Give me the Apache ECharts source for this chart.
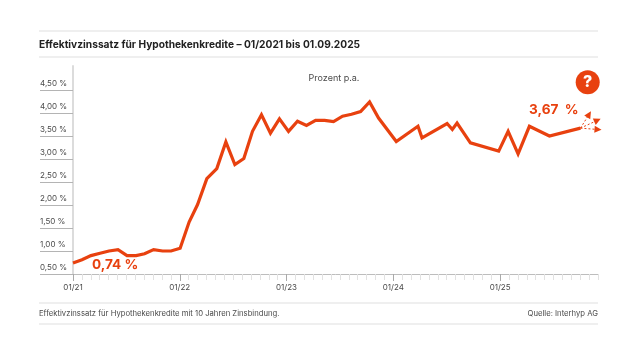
<!DOCTYPE html>
<html>
<head>
<meta charset="utf-8">
<title>Effektivzinssatz</title>
<script src="https://cdn.jsdelivr.net/npm/echarts@6/dist/echarts.min.js"></script>
<style>
html, body { margin: 0; padding: 0; background: #fff; }
#chart { width: 640px; height: 360px; }
</style>
</head>
<body>
<div id="chart"></div>
<script>
// months since 01/2021 for each vertex of the line
var months = [0, 1.01, 2.02, 3.04, 4.05, 5.06, 6.07, 7.09, 8.04, 9.06, 10.07, 11.02, 12.04, 13.05, 14, 15.04,
    16.16, 17.18, 18.19, 19.2, 20.17, 21.18, 22.19, 23.2, 24.22, 25.23, 26.24, 27.26, 28.27, 29.28, 30.29, 31.3,
    32.32, 33.33, 34.34, 36.33, 38.77, 39.22, 42.04, 42.63, 43.16, 44.66, 47.84, 48.9, 50.02, 51.29, 53.54, 57.03];
var rates = [0.74, 0.81, 0.90, 0.95, 1.00, 1.03, 0.90, 0.90, 0.94, 1.03, 1.00, 1.00, 1.06, 1.63, 2.01, 2.57,
    2.79, 3.37, 2.88, 3.01, 3.60, 3.96, 3.56, 3.87, 3.60, 3.82, 3.73, 3.84, 3.84, 3.81, 3.93, 3.97,
    4.03, 4.24, 3.89, 3.38, 3.71, 3.46, 3.77, 3.64, 3.78, 3.35, 3.17, 3.60, 3.11, 3.71, 3.50, 3.67];

var yTicks = [0.5, 1, 1.5, 2, 2.5, 3, 3.5, 4, 4.5];
var yearTicks = [0, 12, 24, 36, 48];
var yearLabels = ['01/21', '01/22', '01/23', '01/24', '01/25'];
var arrowEnds = [[59, 3.64], [58.94, 3.84], [58, 3.97]];

var monthTicks = [];
for (var m = 0; m <= 59; m++) {
    monthTicks.push(m);
}

var red = '#e8410f';
var textColor = '#4a4a4a';
var fontName = 'Inter';

var rule = function (y) {
    return {
        type: 'line',
        shape: { x1: 39, y1: y, x2: 598, y2: y },
        style: { stroke: '#efefef', lineWidth: 2 }
    };
};

var text = function (x, y, str, size, weight, color, align) {
    return {
        type: 'text',
        x: x,
        y: y,
        style: {
            text: str,
            fontFamily: fontName,
            fontSize: size,
            fontWeight: weight,
            fill: color,
            align: align || 'left',
            verticalAlign: 'middle'
        }
    };
};

var option = {
    backgroundColor: '#fff',
    animation: false,
    grid: { left: 73, right: 42, top: 66, bottom: 86 },
    xAxis: [
        {
            type: 'value',
            min: 0,
            max: 59,
            splitLine: { show: false },
            axisLine: { show: true, lineStyle: { color: '#bdbdbd', width: 1 } },
            axisTick: { show: true, customValues: monthTicks, length: 6, lineStyle: { color: '#e2e2e2' } },
            axisLabel: { show: false }
        },
        {
            type: 'value',
            min: 0,
            max: 59,
            position: 'bottom',
            splitLine: { show: false },
            axisLine: { show: false },
            axisTick: { show: true, customValues: yearTicks, length: 7, lineStyle: { color: '#aaaaaa' } },
            axisLabel: {
                show: true,
                customValues: yearTicks,
                margin: 10,
                fontFamily: fontName,
                fontSize: 8,
                color: textColor,
                formatter: function (value) {
                    return yearLabels[yearTicks.indexOf(value)];
                }
            }
        }
    ],
    yAxis: {
        type: 'value',
        min: 0.5,
        max: 5.02,
        splitLine: { show: false },
        axisLine: { show: true, lineStyle: { color: '#dcdcdc', width: 2 } },
        axisTick: { show: true, customValues: yTicks, length: 33, lineStyle: { color: '#b4b4b4' } },
        axisLabel: {
            show: true,
            customValues: yTicks,
            margin: 33,
            align: 'left',
            verticalAlign: 'bottom',
            lineHeight: 12,
            padding: [0, 0, 0, 0],
            fontFamily: fontName,
            fontSize: 8,
            color: textColor,
            formatter: function (value) {
                return value.toFixed(2).replace('.', ',') + ' %';
            }
        }
    },
    series: [
        {
            type: 'line',
            data: months.map(function (month, i) { return [month, rates[i]]; }),
            showSymbol: false,
            symbol: 'none',
            clip: false,
            lineStyle: { color: red, width: 3.2, join: 'miter' },
            markLine: {
                silent: true,
                animation: false,
                symbol: ['none', 'triangle'],
                symbolSize: 7,
                label: { show: false },
                lineStyle: { color: red, width: 1, type: [2, 2], opacity: 1 },
                data: arrowEnds.map(function (end) {
                    return [
                        { coord: [months[months.length - 1], rates[rates.length - 1]] },
                        { coord: end }
                    ];
                })
            }
        }
    ],
    graphic: [
        rule(31),
        rule(57),
        rule(303),
        rule(324),
        text(39, 45, 'Effektivzinssatz für Hypothekenkredite – 01/2021 bis 01.09.2025', 10.2, 700, '#222'),
        text(334, 78, 'Prozent p.a.', 9, 400, textColor, 'center'),
        text(92, 265, '0,74 %', 13.6, 700, red),
        text(529, 110, '3,67  %', 13.6, 700, red),
        text(39, 314, 'Effektivzinssatz für Hypothekenkredite mit 10 Jahren Zinsbindung.', 7.7, 400, textColor),
        text(598, 314, 'Quelle: Interhyp AG', 7.7, 400, textColor, 'right'),
        {
            type: 'circle',
            shape: { cx: 587.7, cy: 82.3, r: 12 },
            style: { fill: red }
        },
        text(587.7, 82.5, '?', 16, 800, '#fff', 'center')
    ]
};

var chart = echarts.init(document.getElementById('chart'));
chart.setOption(option);
</script>
</body>
</html>
